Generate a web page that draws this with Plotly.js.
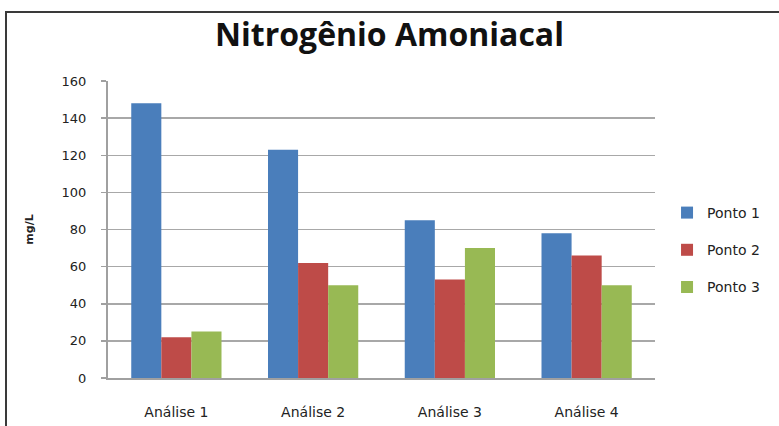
<!DOCTYPE html>
<html>
<head>
<meta charset="utf-8">
<script src="https://cdn.plot.ly/plotly-3.0.1.min.js"></script>
<style>
  html, body { margin: 0; padding: 0; background: #fff; }
  #frame { position: absolute; left: 5px; top: 11px; width: 820px; height: 460px; border: 2px solid #3a3a3a; }
  #chart { position: absolute; left: 0; top: 0; width: 779px; height: 426px; }
</style>
</head>
<body>
<div id="frame"></div>
<div id="chart"></div>
<script>
const categories = ["Análise 1", "Análise 2", "Análise 3", "Análise 4"];
const ponto1 = [148, 123, 85, 78];
const ponto2 = [22, 62, 53, 66];
const ponto3 = [25, 50, 70, 50];
const seriesNames = ["Ponto 1", "Ponto 2", "Ponto 3"];
const yTicks = [0, 20, 40, 60, 80, 100, 120, 140, 160];

const colors = ["#4A7EBB", "#BE4B48", "#98B954"];
const values = [ponto1, ponto2, ponto3];

const traces = values.map((v, i) => ({
  type: "bar",
  x: categories,
  y: v,
  name: seriesNames[i],
  legendgroup: "g" + i,
  marker: { color: colors[i] }
}));

const layout = {
  width: 779,
  height: 426,
  paper_bgcolor: "rgba(0,0,0,0)",
  plot_bgcolor: "rgba(0,0,0,0)",
  margin: { l: 108, r: 124, t: 81, b: 48 },
  barmode: "group",
  bargap: 0.34,
  bargroupgap: 0,
  title: {
    text: "<b>Nitrogênio Amoniacal</b>",
    font: { family: "Open Sans", size: 32, color: "#111" },
    x: 0.5, xanchor: "center",
    y: 0.918, yanchor: "middle"
  },
  font: { family: "DejaVu Sans", color: "#222" },
  xaxis: {
    showgrid: false,
    showline: true,
    linecolor: "#a0a0a0",
    linewidth: 2,
    ticks: "",
    tickfont: { family: "DejaVu Sans", size: 14, color: "#222" },
    ticklabelstandoff: 20
  },
  yaxis: {
    range: [0, 160],
    tickvals: yTicks,
    ticktext: yTicks.map(String),
    showgrid: true,
    gridcolor: "#a8a8a8",
    gridwidth: 1.5,
    showline: true,
    linecolor: "#a0a0a0",
    linewidth: 2,
    ticks: "outside",
    ticklen: 5,
    tickcolor: "#a0a0a0",
    tickwidth: 1.5,
    zeroline: false,
    ticklabelstandoff: 12,
    tickfont: { family: "DejaVu Sans", size: 13, color: "#222" },
    title: {
      text: "<b>mg/L</b>",
      font: { family: "DejaVu Sans", size: 11, color: "#222" },
      standoff: 26
    }
  },
  legend: {
    x: 1.022, xanchor: "left",
    y: 0.431, yanchor: "middle",
    font: { family: "DejaVu Sans", size: 14, color: "#222" },
    traceorder: "grouped",
    tracegroupgap: 16,
    itemwidth: 30,
    bgcolor: "rgba(0,0,0,0)"
  },
  showlegend: true
};

Plotly.newPlot("chart", traces, layout, { displayModeBar: false, staticPlot: true });
</script>
</body>
</html>
